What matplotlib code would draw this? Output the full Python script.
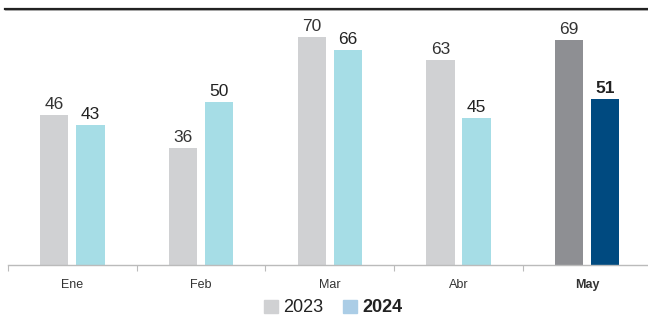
import matplotlib
matplotlib.use("Agg")
from matplotlib import pyplot as plt
from matplotlib.patches import Patch
from matplotlib.lines import Line2D
import numpy as np

months = ["Ene", "Feb", "Mar", "Abr", "May"]
vals_2023 = [46, 36, 70, 63, 69]
vals_2024 = [43, 50, 66, 45, 51]

c23 = "#d0d1d3"
c24 = "#a6dde6"
c23_last = "#8e8f93"
c24_last = "#004a80"

plt.rcParams['font.family'] = ['Liberation Sans Narrow', 'Liberation Sans', 'DejaVu Sans']


def run():
    fig = plt.figure(figsize=(6.48, 3.2), dpi=100)
    ax = fig.add_axes([8 / 648, 55 / 320, 643.5 / 648, 257 / 320])

    x = np.arange(len(months))
    w = 0.22
    off = 0.14
    cols23 = [c23] * (len(months) - 1) + [c23_last]
    cols24 = [c24] * (len(months) - 1) + [c24_last]
    b1 = ax.bar(x - off, vals_2023, w, color=cols23)
    b2 = ax.bar(x + off, vals_2024, w, color=cols24)

    for i, (r1, r2) in enumerate(zip(b1, b2)):
        ax.annotate(f"{vals_2023[i]}", (r1.get_x() + r1.get_width() / 2, r1.get_height()),
                    xytext=(0, 2), textcoords="offset points", ha="center", va="bottom",
                    fontsize=12.5, color="#333333")
        last = i == len(months) - 1
        ax.annotate(f"{vals_2024[i]}", (r2.get_x() + r2.get_width() / 2, r2.get_height()),
                    xytext=(0, 2), textcoords="offset points", ha="center", va="bottom",
                    fontsize=12.5, color="#222222", fontweight="bold" if last else "normal")

    ax.set_xlim(-0.5, len(months) - 0.5)
    ax.set_ylim(0, 78.8)
    ax.set_yticks([])
    ax.set_xticks(x)
    ax.set_xticklabels(months, fontsize=9, color="#333333")
    ax.get_xticklabels()[-1].set_fontweight("bold")
    ax.tick_params(axis="x", length=0, pad=10)
    # separators between months
    ax.set_xticks(np.arange(len(months)) - 0.5, minor=True)
    ax.tick_params(axis="x", which="minor", length=4, color="#bbbbbb", width=0.8)

    for s in ["left", "right", "top"]:
        ax.spines[s].set_visible(False)
    ax.spines["bottom"].set_color("#bbbbbb")
    ax.spines["bottom"].set_linewidth(1.0)

    # dark rule at the top
    fig.add_artist(Line2D([5 / 648, 1], [311 / 320, 311 / 320], color="#222222", lw=1.6))
    fig.add_artist(Line2D([5 / 648, 1], [309.6 / 320, 309.6 / 320], color="#999999", lw=0.6))

    handles = [Patch(color=c23, label="2023"), Patch(color="#abcde6", label="2024")]
    leg = fig.legend(handles=handles, loc="center", bbox_to_anchor=(0.514, 12 / 320), ncol=2,
                     frameon=False, fontsize=13, handlelength=0.75, handleheight=0.75,
                     handletextpad=0.3, columnspacing=1.1, borderpad=0)
    leg.get_texts()[1].set_fontweight("bold")
    for t in leg.get_texts():
        t.set_color("#222222")

    fig.savefig("out.png", dpi=100)


if __name__ == "__main__":
    run()
